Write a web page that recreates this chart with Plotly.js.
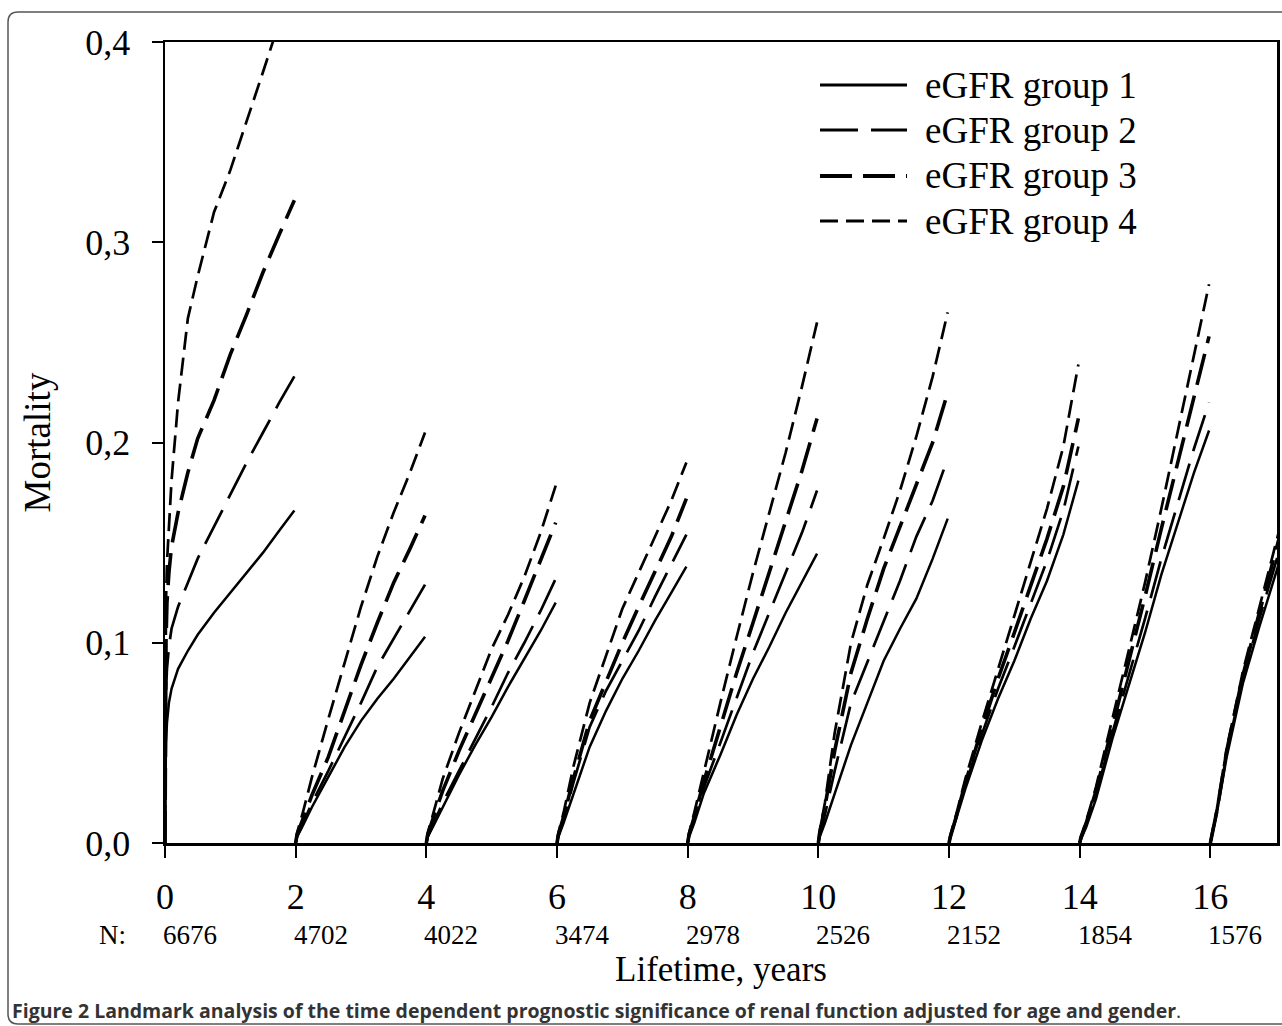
<!DOCTYPE html>
<html>
<head>
<meta charset="utf-8">
<script src="https://cdn.plot.ly/plotly-3.0.1.min.js"></script>
<style>
  html, body { margin: 0; padding: 0; background: #ffffff; }
  #chart { width: 1282px; height: 1026px; }
</style>
</head>
<body>
<div id="chart"></div>
<script>
// ---------- data ----------
const landmarks = [0, 2, 4, 6, 8, 10, 12, 14, 16];
const landmarkLabels = ['0', '2', '4', '6', '8', '10', '12', '14', '16'];
const nAtRisk = ['6676', '4702', '4022', '3474', '2978', '2526', '2152', '1854', '1576'];
const yTickVals = [0, 0.1, 0.2, 0.3, 0.4];
const yTickText = ['0,0', '0,1', '0,2', '0,3', '0,4'];
const groupNames = ['eGFR group 1', 'eGFR group 2', 'eGFR group 3', 'eGFR group 4'];

// years after each landmark at which values were read
const firstTimes = [0, 0.005, 0.015, 0.03, 0.06, 0.1, 0.2, 0.35, 0.5, 0.75, 1.0, 1.25, 1.5, 1.75, 1.98];
const midTimes = [0, 0.02, 0.1, 0.25, 0.5, 0.75, 1.0, 1.25, 1.5, 1.75, 1.98];
const lastTimes = [0, 0.02, 0.1, 0.25, 0.5, 0.75, 1.0, 1.1];

// mortality per landmark segment (0,2,...,16)
const group1 = [
  [0, 0.03, 0.05, 0.06, 0.07, 0.077, 0.087, 0.096, 0.104, 0.115, 0.125, 0.135, 0.145, 0.156, 0.166],
  [0, 0.003, 0.008, 0.018, 0.033, 0.048, 0.061, 0.072, 0.082, 0.093, 0.103],
  [0, 0.003, 0.008, 0.018, 0.034, 0.049, 0.063, 0.078, 0.092, 0.106, 0.120],
  [0, 0.003, 0.010, 0.024, 0.048, 0.066, 0.082, 0.096, 0.111, 0.125, 0.138],
  [0, 0.003, 0.010, 0.025, 0.044, 0.064, 0.082, 0.098, 0.115, 0.130, 0.1445],
  [0, 0.003, 0.010, 0.025, 0.049, 0.070, 0.091, 0.107, 0.122, 0.142, 0.162],
  [0, 0.003, 0.011, 0.027, 0.051, 0.072, 0.091, 0.112, 0.131, 0.154, 0.181],
  [0, 0.002, 0.008, 0.022, 0.052, 0.078, 0.105, 0.134, 0.160, 0.185, 0.206],
  [0, 0.003, 0.015, 0.043, 0.080, 0.108, 0.134, 0.145]
];
const group2 = [
  [0, 0.05, 0.075, 0.087, 0.098, 0.107, 0.118, 0.130, 0.142, 0.158, 0.174, 0.190, 0.205, 0.220, 0.233],
  [0, 0.003, 0.009, 0.020, 0.036, 0.053, 0.070, 0.088, 0.102, 0.116, 0.129],
  [0, 0.003, 0.009, 0.020, 0.036, 0.052, 0.068, 0.085, 0.100, 0.116, 0.132],
  [0, 0.004, 0.012, 0.030, 0.058, 0.076, 0.091, 0.106, 0.123, 0.139, 0.154],
  [0, 0.004, 0.012, 0.028, 0.050, 0.073, 0.095, 0.115, 0.135, 0.155, 0.176],
  [0, 0.004, 0.014, 0.036, 0.070, 0.090, 0.110, 0.131, 0.153, 0.171, 0.192],
  [0, 0.003, 0.012, 0.029, 0.054, 0.077, 0.098, 0.120, 0.141, 0.166, 0.198],
  [0, 0.002, 0.009, 0.024, 0.055, 0.083, 0.112, 0.142, 0.170, 0.197, 0.220],
  [0, 0.003, 0.016, 0.045, 0.082, 0.112, 0.140, 0.151]
];
const group3 = [
  [0, 0.07, 0.10, 0.12, 0.135, 0.148, 0.165, 0.185, 0.202, 0.221, 0.244, 0.264, 0.285, 0.304, 0.321],
  [0, 0.004, 0.011, 0.024, 0.043, 0.066, 0.089, 0.110, 0.130, 0.147, 0.1635],
  [0, 0.004, 0.012, 0.026, 0.046, 0.064, 0.082, 0.101, 0.121, 0.141, 0.160],
  [0, 0.004, 0.013, 0.032, 0.061, 0.081, 0.100, 0.118, 0.135, 0.153, 0.172],
  [0, 0.004, 0.013, 0.031, 0.058, 0.085, 0.110, 0.135, 0.160, 0.186, 0.212],
  [0, 0.005, 0.018, 0.046, 0.085, 0.112, 0.137, 0.158, 0.178, 0.200, 0.225],
  [0, 0.003, 0.012, 0.030, 0.057, 0.082, 0.105, 0.128, 0.152, 0.178, 0.212],
  [0, 0.003, 0.010, 0.026, 0.058, 0.090, 0.123, 0.157, 0.190, 0.222, 0.253],
  [0, 0.003, 0.016, 0.046, 0.084, 0.115, 0.146, 0.158]
];
const group4 = [
  [0, 0.09, 0.12, 0.14, 0.16, 0.181, 0.22, 0.262, 0.283, 0.315, 0.336, 0.360, 0.385, 0.410, 0.432],
  [0, 0.005, 0.014, 0.033, 0.062, 0.090, 0.118, 0.143, 0.165, 0.185, 0.205],
  [0, 0.005, 0.014, 0.032, 0.055, 0.076, 0.097, 0.114, 0.133, 0.155, 0.1785],
  [0, 0.005, 0.015, 0.038, 0.070, 0.093, 0.117, 0.135, 0.153, 0.171, 0.190],
  [0, 0.005, 0.015, 0.036, 0.070, 0.103, 0.135, 0.165, 0.195, 0.228, 0.260],
  [0, 0.006, 0.020, 0.055, 0.100, 0.129, 0.152, 0.176, 0.203, 0.233, 0.265],
  [0, 0.004, 0.013, 0.032, 0.060, 0.087, 0.113, 0.140, 0.167, 0.198, 0.239],
  [0, 0.003, 0.011, 0.028, 0.062, 0.096, 0.130, 0.167, 0.205, 0.243, 0.279],
  [0, 0.004, 0.017, 0.047, 0.086, 0.118, 0.150, 0.162]
];

// ---------- build traces ----------
function timesFor(i) {
  if (i === 0) return firstTimes;
  if (i === landmarks.length - 1) return lastTimes;
  return midTimes;
}
function buildXY(segs) {
  const xs = [], ys = [];
  segs.forEach((vals, i) => {
    const ts = timesFor(i);
    vals.forEach((v, k) => { xs.push(landmarks[i] + ts[k]); ys.push(v); });
    xs.push(null); ys.push(null);
  });
  return { xs, ys };
}

const styles = [
  { width: 2.5, dash: 'solid' },
  { width: 2.7, dash: '38px,13px' },
  { width: 3.6, dash: '32px,11px' },
  { width: 2.7, dash: '18px,8px' }
];
const groups = [group1, group2, group3, group4];
const traces = groups.map((g, i) => {
  const d = buildXY(g);
  return {
    type: 'scatter', mode: 'lines', name: groupNames[i],
    x: d.xs, y: d.ys, connectgaps: false,
    line: { color: '#000000', width: styles[i].width, dash: styles[i].dash, shape: 'linear' },
    showlegend: false, hoverinfo: 'skip'
  };
});

// ---------- layout helpers (pixel -> paper) ----------
const W = 1282, H = 1026;
const M = { l: 165, r: 5, t: 42, b: 183 };
const PW = W - M.l - M.r, PH = H - M.t - M.b;
const px = x => (x - M.l) / PW;
const py = y => (H - M.b - y) / PH;

const serif = 'Liberation Serif, Times New Roman, serif';

const annotations = [];
// N at risk row
annotations.push({
  x: px(97), y: py(935), xref: 'paper', yref: 'paper', text: 'N:',
  showarrow: false, xanchor: 'left', yanchor: 'middle',
  font: { family: serif, size: 27, color: '#000' }
});
landmarks.forEach((t, i) => {
  annotations.push({
    x: t, y: py(935), xref: 'x', yref: 'paper', text: nAtRisk[i],
    showarrow: false, xanchor: 'left', yanchor: 'middle', xshift: -4,
    font: { family: serif, size: 27, color: '#000' }
  });
});
// legend (custom, longer line samples)
const legendY = [85, 130, 176, 221];
const shapes = [];
groupNames.forEach((nm, i) => {
  shapes.push({
    type: 'line', xref: 'paper', yref: 'paper',
    x0: px(820), x1: px(907), y0: py(legendY[i]), y1: py(legendY[i]),
    line: { color: '#000', width: styles[i].width + 0.3, dash: styles[i].dash }
  });
  annotations.push({
    x: px(923), y: py(legendY[i]), xref: 'paper', yref: 'paper', text: nm,
    showarrow: false, xanchor: 'left', yanchor: 'middle',
    font: { family: serif, size: 37, color: '#000' }
  });
});
// caption
annotations.push({
  x: px(10), y: py(1010), xref: 'paper', yref: 'paper',
  text: '<b>Figure 2 Landmark analysis of the time dependent prognostic significance of renal function adjusted for age and gender</b>.',
  showarrow: false, xanchor: 'left', yanchor: 'middle',
  font: { family: 'Open Sans, Noto Sans, sans-serif', size: 19.5, color: '#333' }
});
// rounded frame around figure
const framePath = 'M' + px(1300) + ',' + py(12) + ' L' + px(18) + ',' + py(12) +
  ' Q' + px(8) + ',' + py(12) + ' ' + px(8) + ',' + py(22) +
  ' L' + px(8) + ',' + py(1014) +
  ' Q' + px(8) + ',' + py(1024) + ' ' + px(18) + ',' + py(1024) +
  ' L' + px(1300) + ',' + py(1024);
shapes.push({
  type: 'path', xref: 'paper', yref: 'paper', path: framePath,
  line: { color: '#555', width: 1.5 }, layer: 'above'
});

const layout = {
  width: W, height: H,
  margin: M,
  paper_bgcolor: '#ffffff', plot_bgcolor: '#ffffff',
  showlegend: false,
  hovermode: false,
  xaxis: {
    range: [0, 17.02], tickmode: 'array', tickvals: landmarks, ticktext: landmarkLabels,
    ticks: 'outside', ticklen: 12, tickwidth: 2, tickcolor: '#000',
    ticklabelstandoff: 8,
    showline: true, linewidth: 2.5, linecolor: '#000', mirror: true,
    showgrid: false, zeroline: false,
    tickfont: { family: serif, size: 36, color: '#000' },
    title: { text: 'Lifetime, years', font: { family: serif, size: 35, color: '#000' }, standoff: 41 },
    automargin: false
  },
  yaxis: {
    range: [0, 0.4], tickmode: 'array', tickvals: yTickVals, ticktext: yTickText,
    ticks: 'outside', ticklen: 11, tickwidth: 2, tickcolor: '#000',
    ticklabelstandoff: 14,
    showline: true, linewidth: 2.5, linecolor: '#000', mirror: true,
    showgrid: false, zeroline: false,
    tickfont: { family: serif, size: 36, color: '#000' },
    title: { text: 'Mortality', font: { family: serif, size: 37, color: '#000' }, standoff: 24 },
    automargin: false
  },
  annotations: annotations,
  shapes: shapes
};

Plotly.newPlot('chart', traces, layout, { displayModeBar: false, staticPlot: true });
</script>
</body>
</html>
